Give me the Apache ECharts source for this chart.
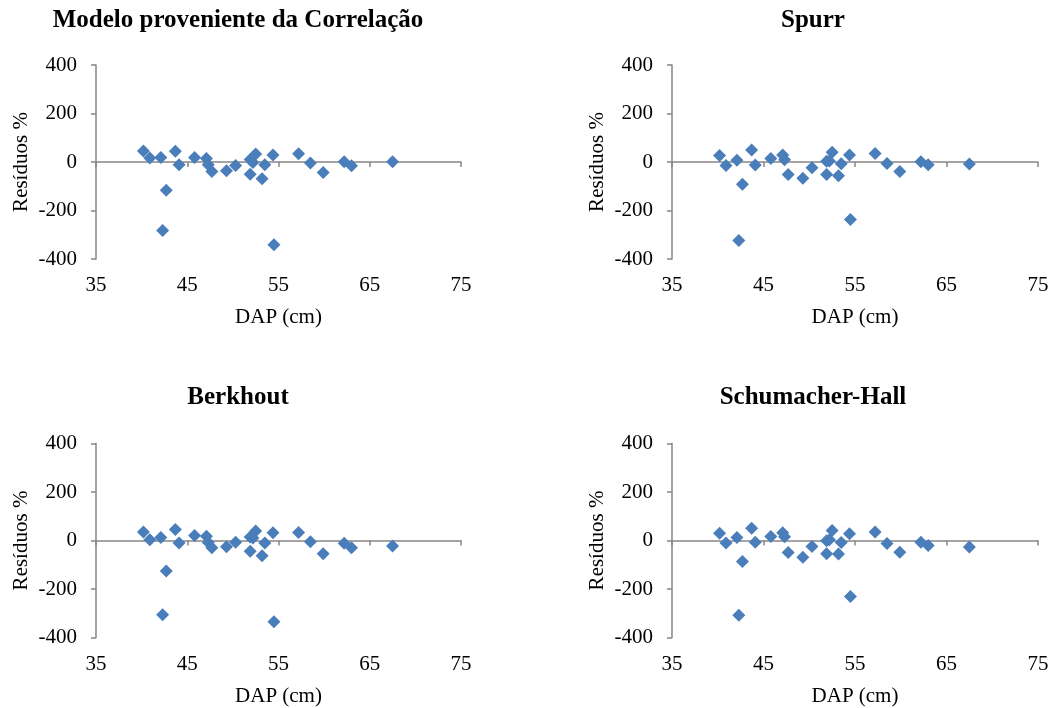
<!DOCTYPE html>
<html>
<head>
<meta charset="utf-8">
<script src="https://cdn.jsdelivr.net/npm/echarts@6/dist/echarts.min.js"></script>
<style>html,body{margin:0;padding:0;background:#fff}#c{width:1054px;height:708px}</style>
</head>
<body>
<div id="c"></div>
<script>
// DAP (cm) of the sampled trees
const dap = [40.2, 40.9, 42.1, 42.3, 42.7, 43.7, 44.1, 45.8, 47.1, 47.3, 47.7, 49.3, 50.3, 51.9, 51.9, 52.2, 52.5, 53.2, 53.5, 54.4, 54.5, 57.2, 58.5, 59.9, 62.2, 63.0, 67.5];
// residuals (%) per model
const resCorrelacao = [45, 16, 19, -282, -117, 44, -11, 19, 14, -11, -39, -36, -14, 10, -50, -2, 33, -69, -11, 29, -341, 34, -4, -43, 1, -15, 1];
const resSpurr = [27, -14, 7, -324, -92, 49, -12, 14, 29, 9, -52, -67, -24, 3, -52, 4, 40, -57, -7, 29, -237, 35, -6, -39, 1, -11, -8];
const resBerkhout = [35, 3, 12, -306, -126, 45, -10, 21, 18, -8, -30, -26, -7, 14, -44, 10, 39, -63, -10, 32, -335, 33, -5, -55, -11, -30, -23];
const resSchumacher = [30, -10, 12, -308, -87, 51, -7, 16, 32, 15, -49, -69, -25, -1, -55, 3, 41, -56, -8, 28, -231, 35, -12, -48, -7, -21, -27];
const titles = ['Modelo proveniente da Correlação', 'Spurr', 'Berkhout', 'Schumacher-Hall'];
const xTicks = [35, 45, 55, 65, 75];
const yTicks = [-400, -200, 0, 200, 400];
const xName = 'DAP (cm)';
const yName = 'Resíduos %';

const panels = [resCorrelacao, resSpurr, resBerkhout, resSchumacher];
const layout = [
  {left: 96, top: 65, width: 365, height: 194, tx: 238, ty: 21},
  {left: 672, top: 65, width: 366, height: 194, tx: 813, ty: 21},
  {left: 96, top: 443.5, width: 365, height: 194, tx: 238, ty: 398},
  {left: 672, top: 443.5, width: 366, height: 194, tx: 813, ty: 398}
];
const FONT = 'Liberation Serif, Times New Roman, serif';
const axisColor = '#868686';
const grid = [], xAxis = [], yAxis = [], series = [], graphic = [];
const xMin = xTicks[0], xMax = xTicks[xTicks.length - 1], xInt = xTicks[1] - xTicks[0];
const yMin = yTicks[0], yMax = yTicks[yTicks.length - 1], yInt = yTicks[1] - yTicks[0];

panels.forEach((vals, i) => {
  const L = layout[i];
  grid.push({left: L.left, top: L.top, width: L.width, height: L.height, containLabel: false});
  // axis line drawn at zero with ticks
  xAxis.push({
    type: 'value', gridIndex: i, min: xMin, max: xMax, interval: xInt,
    axisLine: {show: true, onZero: true, lineStyle: {color: axisColor, width: 1.5}},
    axisTick: {show: true, inside: false, length: 5, lineStyle: {color: axisColor, width: 1.5}},
    axisLabel: {show: false}, splitLine: {show: false}
  });
  // labels at bottom
  xAxis.push({
    type: 'value', gridIndex: i, position: 'bottom', min: xMin, max: xMax, interval: xInt,
    axisLine: {show: false, onZero: false}, axisTick: {show: false}, splitLine: {show: false},
    axisLabel: {show: true, margin: 16, color: '#000', fontFamily: FONT, fontSize: 21},
    name: xName, nameLocation: 'middle', nameGap: 48,
    nameTextStyle: {color: '#000', fontFamily: FONT, fontSize: 21}
  });
  yAxis.push({
    type: 'value', gridIndex: i, min: yMin, max: yMax, interval: yInt,
    axisLine: {show: true, onZero: false, lineStyle: {color: axisColor, width: 1.5}},
    axisTick: {show: true, inside: false, length: 5, lineStyle: {color: axisColor, width: 1.5}},
    axisLabel: {show: true, margin: 19, color: '#000', fontFamily: FONT, fontSize: 21},
    splitLine: {show: false},
    name: yName, nameLocation: 'middle', nameGap: 64, nameRotate: 90,
    nameTextStyle: {color: '#000', fontFamily: FONT, fontSize: 21}
  });
  series.push({
    type: 'scatter', xAxisIndex: i * 2, yAxisIndex: i,
    symbol: 'diamond', symbolSize: 13,
    itemStyle: {color: '#4A7EBB', opacity: 1},
    data: dap.map((x, k) => [x, vals[k]])
  });
  graphic.push({
    type: 'text', x: L.tx, y: L.ty,
    style: {text: titles[i], fill: '#000', font: 'bold 25px ' + FONT, align: 'center', verticalAlign: 'middle', textAlign: 'center', textVerticalAlign: 'middle'}
  });
});

const chart = echarts.init(document.getElementById('c'), null, {renderer: 'canvas'});
chart.setOption({
  animation: false,
  backgroundColor: '#fff',
  grid, xAxis, yAxis, series, graphic
});
</script>
</body>
</html>
